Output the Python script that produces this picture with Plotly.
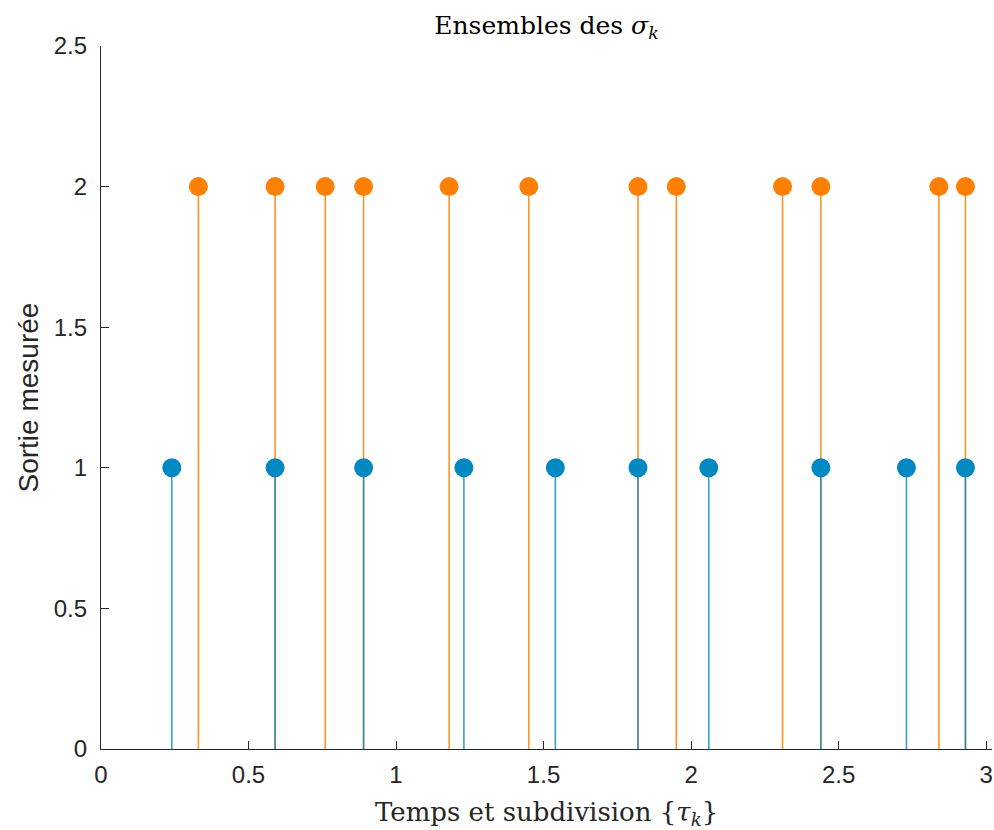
import plotly.graph_objects as go

# Data
x_blue = [0.24, 0.59, 0.89, 1.23, 1.54, 1.82, 2.06, 2.44, 2.73, 2.93]
y_blue = [1] * len(x_blue)
x_orange = [0.33, 0.59, 0.76, 0.89, 1.18, 1.45, 1.82, 1.95, 2.31, 2.44, 2.84, 2.93]
y_orange = [2] * len(x_orange)

x_ticks = [0, 0.5, 1, 1.5, 2, 2.5, 3]
x_ticklabels = ["0", "0.5", "1", "1.5", "2", "2.5", "3"]
y_ticks = [0, 0.5, 1, 1.5, 2, 2.5]
y_ticklabels = ["0", "0.5", "1", "1.5", "2", "2.5"]

ORANGE = "#FF8000"
BLUE = "#0088C2"


def stems(xs, ys):
    sx, sy = [], []
    for x, y in zip(xs, ys):
        sx += [x, x, None]
        sy += [0, y, None]
    return sx, sy


fig = go.Figure()

ox, oy = stems(x_orange, y_orange)
fig.add_trace(go.Scatter(x=ox, y=oy, mode="lines",
                         line=dict(color="rgba(255,128,0,0.85)", width=1.6),
                         hoverinfo="skip", showlegend=False))
bx, by = stems(x_blue, y_blue)
fig.add_trace(go.Scatter(x=bx, y=by, mode="lines",
                         line=dict(color="rgba(0,136,194,0.8)", width=1.6),
                         hoverinfo="skip", showlegend=False))
fig.add_trace(go.Scatter(x=x_orange, y=y_orange, mode="markers",
                         marker=dict(color=ORANGE, size=19, line=dict(width=0)),
                         showlegend=False))
fig.add_trace(go.Scatter(x=x_blue, y=y_blue, mode="markers",
                         marker=dict(color=BLUE, size=19, line=dict(width=0)),
                         showlegend=False))

axis_common = dict(
    showgrid=False, zeroline=False, showline=True, linecolor="#262626", linewidth=1.3,
    ticks="inside", ticklen=8, tickwidth=1.3, tickcolor="#262626",
    tickfont=dict(family="Liberation Sans, Arial, sans-serif", size=24, color="#262626"),
)

fig.update_layout(
    width=994, height=830,
    margin=dict(l=101, r=2, t=46, b=81),
    paper_bgcolor="white", plot_bgcolor="white",
    xaxis=dict(range=[0, 3.02], tickvals=x_ticks, ticktext=x_ticklabels,
               ticklabelstandoff=4, **axis_common),
    yaxis=dict(range=[0, 2.5], tickvals=y_ticks, ticktext=y_ticklabels,
               ticklabelstandoff=8, **axis_common),
    title=dict(text="Ensembles des <i>σ<sub>k</sub></i>", x=0.5, xanchor="center",
               y=0.970, yanchor="middle", xref="paper",
               font=dict(family="DejaVu Serif, Liberation Serif, serif", size=25, color="black")),
    showlegend=False,
)

fig.add_annotation(text="Temps et subdivision {<i>τ<sub>k</sub></i>}", xref="paper", yref="paper",
                   x=0.5, y=0, yshift=-64, yanchor="middle", showarrow=False,
                   font=dict(family="DejaVu Serif, Liberation Serif, serif", size=26, color="#262626"))
fig.add_annotation(text="Sortie mesurée", xref="paper", yref="paper",
                   x=0, xshift=-73, y=0.5, textangle=-90, xanchor="center", yanchor="middle",
                   showarrow=False,
                   font=dict(family="Liberation Sans, Arial, sans-serif", size=28, color="#262626"))

fig.write_html("out.html", config={"displayModeBar": False},
               post_script="document.body.style.margin='0px';")
